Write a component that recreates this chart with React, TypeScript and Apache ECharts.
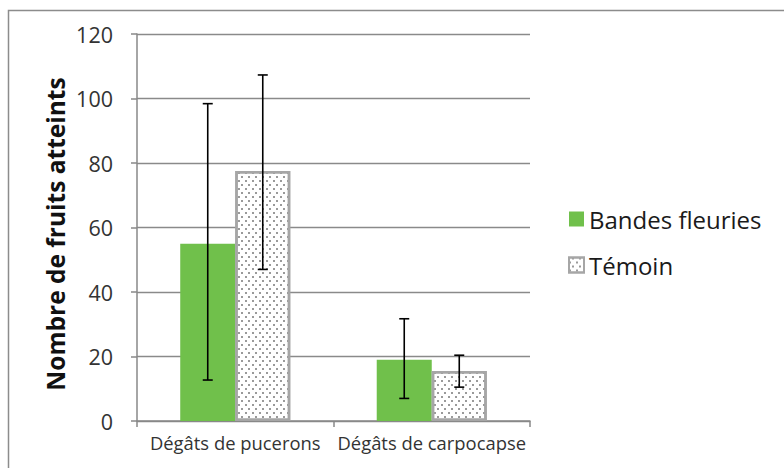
import React, { useEffect, useRef } from "react";
import * as echarts from "echarts";

const categories = ["Dégâts de pucerons", "Dégâts de carpocapse"];
const seriesNames = ["Bandes fleuries", "Témoin"];
const bandesValues = [55, 19];
const temoinValues = [77.5, 15.5];
const bandesErrLow = [12.7, 7];
const bandesErrHigh = [98.4, 31.7];
const temoinErrLow = [47, 10.5];
const temoinErrHigh = [107.3, 20.4];
const yTicks = [0, 20, 40, 60, 80, 100, 120];
const yTitle = "Nombre de fruits atteints";

const FONT = "Open Sans";
const CAT_GAP = 0.44;

export default function App() {
  const ref = useRef<HTMLDivElement>(null);
  useEffect(() => {
    if (!ref.current) return;
    const chart = echarts.init(ref.current, null, { renderer: "svg" });
    const makeErr = (low: number[], high: number[], sIdx: number) => ({
      type: "custom",
      name: "err" + sIdx,
      silent: true,
      z: 10,
      data: low.map((l, i) => [i, l, high[i]]),
      renderItem: (params: any, api: any) => {
        const cat = api.value(0);
        const lo = api.coord([cat, api.value(1)]);
        const hi = api.coord([cat, api.value(2)]);
        const band = api.size([1, 0])[0];
        const barW = (band * (1 - CAT_GAP)) / 2;
        const x = lo[0] + (sIdx === 0 ? -barW / 2 : barW / 2);
        const cap = 5;
        const style = { stroke: "#000", lineWidth: 1.6 };
        return {
          type: "group",
          children: [
            { type: "line", shape: { x1: x, y1: lo[1], x2: x, y2: hi[1] }, style },
            { type: "line", shape: { x1: x - cap, y1: lo[1], x2: x + cap, y2: lo[1] }, style },
            { type: "line", shape: { x1: x - cap, y1: hi[1], x2: x + cap, y2: hi[1] }, style },
          ],
        };
      },
    });
    chart.setOption({
      animation: false,
      backgroundColor: "#fff",
      textStyle: { fontFamily: FONT },
      graphic: [
        {
          type: "rect",
          shape: { x: 8.5, y: 10.5, width: 800, height: 500 },
          style: { fill: "none", stroke: "#8c8c8c", lineWidth: 1.5 },
          silent: true,
          z: -1,
        },
        {
          type: "text",
          x: 55,
          y: 234,
          rotation: Math.PI / 2,
          style: {
            text: yTitle,
            fontFamily: FONT,
            fontSize: 24.5,
            fontWeight: "bold",
            fill: "#111",
            align: "center",
            verticalAlign: "middle",
          },
        },
      ],
      grid: { left: 137, right: 254, top: 34, bottom: 47 },
      legend: {
        orient: "vertical",
        left: 563,
        top: 202,
        itemGap: 22,
        itemWidth: 15,
        itemHeight: 15,
        icon: "rect",
        data: seriesNames,
        textStyle: { fontFamily: FONT, fontSize: 24, color: "#1a1a1a", padding: [0, 0, 0, 0] },
      },
      xAxis: {
        type: "category",
        data: categories,
        axisLine: { lineStyle: { color: "#888", width: 1.5 } },
        axisTick: { show: true, length: 6, lineStyle: { color: "#888", width: 1.5 } },
        axisLabel: { fontFamily: FONT, fontSize: 18.4, color: "#333", margin: 12, interval: 0 },
      },
      yAxis: {
        type: "value",
        min: 0,
        max: 120,
        interval: 20,
        axisLine: { show: true, lineStyle: { color: "#888", width: 1.5 } },
        axisTick: { show: true, inside: false, length: 6, lineStyle: { color: "#888", width: 1.5 } },
        splitLine: { lineStyle: { color: "#8a8a8a", width: 1.3 } },
        axisLabel: {
          fontFamily: FONT,
          fontSize: 21.5,
          color: "#333",
          margin: 24,
          formatter: (v: number) => (yTicks.includes(v) ? String(v) : ""),
        },
      },
      series: [
        {
          type: "bar",
          name: seriesNames[0],
          data: bandesValues,
          barGap: "0%",
          barCategoryGap: CAT_GAP * 100 + "%",
          itemStyle: { color: "#70c04b" },
        },
        {
          type: "bar",
          name: seriesNames[1],
          data: temoinValues,
          barGap: "0%",
          barCategoryGap: CAT_GAP * 100 + "%",
          itemStyle: {
            color: "#ffffff",
            borderColor: "#a6a6a6",
            borderWidth: 2.5,
            decal: {
              symbol: "rect",
              symbolSize: 1,
              color: "#9a9a9a",
              dashArrayX: [[1.2, 4.8], [0, 3, 1.2, 1.8]],
              dashArrayY: [1.2, 1.8],
              rotation: 0,
            },
          },
        },
        makeErr(bandesErrLow, bandesErrHigh, 0),
        makeErr(temoinErrLow, temoinErrHigh, 1),
      ],
    });
    return () => chart.dispose();
  }, []);
  return (
    <div
      ref={ref}
      style={{ position: "fixed", left: 0, top: 0, width: 784, height: 468 }}
    />
  );
}
